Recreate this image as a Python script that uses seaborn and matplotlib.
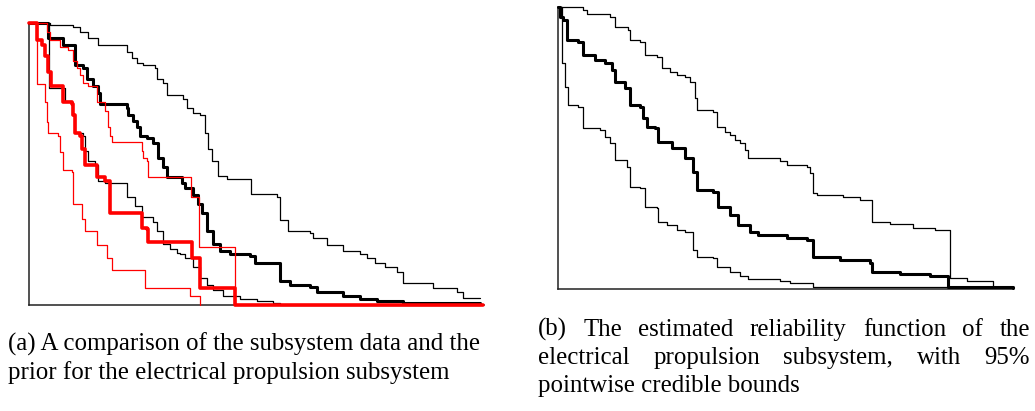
import matplotlib
matplotlib.use("Agg")
import matplotlib.pyplot as plt
import seaborn as sns
import pandas as pd

# ---------------- data (time, reliability) ----------------
# Panel (a): subsystem data (black) and prior (red)
A_DATA_UPPER_T = [0, 21, 31, 44, 51, 59, 69, 98, 103, 108, 114, 126, 128, 134, 138, 154, 158, 164, 171,
                  176, 179, 183, 189, 198, 222, 248, 251, 259, 281, 284, 298, 314, 331, 338, 346, 356,
                  368, 374, 404, 428, 434, 451]
A_DATA_UPPER_R = [1.0, 0.996, 0.993, 0.986, 0.968, 0.947, 0.922, 0.897, 0.879, 0.861, 0.851, 0.840, 0.804,
                  0.790, 0.744, 0.733, 0.698, 0.683, 0.673, 0.612, 0.555, 0.512, 0.459, 0.445, 0.395, 0.381,
                  0.299, 0.263, 0.256, 0.235, 0.210, 0.192, 0.181, 0.164, 0.146, 0.132, 0.114, 0.078, 0.060,
                  0.043, 0.024, 0.022]

A_DATA_MEAN_T = [0, 19, 34, 46, 54, 58, 64, 69, 71, 98, 99, 104, 108, 111, 118, 124, 129, 134, 138, 153,
                 156, 164, 169, 173, 178, 184, 191, 201, 221, 226, 251, 261, 281, 288, 314, 331, 348, 374, 451]
A_DATA_MEAN_R = [1.0, 0.947, 0.922, 0.851, 0.843, 0.804, 0.779, 0.754, 0.715, 0.699, 0.673, 0.652, 0.630,
                 0.601, 0.591, 0.573, 0.523, 0.488, 0.452, 0.434, 0.416, 0.388, 0.359, 0.327, 0.263, 0.217,
                 0.192, 0.181, 0.174, 0.149, 0.085, 0.068, 0.064, 0.043, 0.032, 0.021, 0.014, 0.004, 0.002]

A_DATA_LOWER_T = [0, 20, 36, 43, 46, 54, 56, 59, 66, 69, 76, 98, 106, 113, 124, 128, 134, 141, 148, 151,
                  156, 164, 171, 178, 184, 194, 211, 228, 244, 251, 451]
A_DATA_LOWER_R = [1.0, 0.772, 0.725, 0.673, 0.612, 0.601, 0.548, 0.512, 0.495, 0.441, 0.431, 0.381, 0.352,
                  0.310, 0.292, 0.263, 0.217, 0.199, 0.185, 0.180, 0.164, 0.132, 0.096, 0.068, 0.050, 0.032,
                  0.021, 0.014, 0.007, 0.0, 0.0]

A_PRIOR_MEAN_T = [0, 8, 13, 16, 19, 22, 34, 43, 44, 46, 51, 53, 56, 68, 76, 81, 113, 118, 119, 163, 171,
                  206, 454]
A_PRIOR_MEAN_R = [1.0, 0.943, 0.922, 0.886, 0.826, 0.779, 0.719, 0.715, 0.673, 0.609, 0.601, 0.555, 0.495,
                  0.452, 0.441, 0.327, 0.274, 0.270, 0.221, 0.167, 0.057, 0.0, 0.0]

A_PRIOR_UPPER_T = [0, 18, 21, 31, 39, 44, 48, 51, 54, 59, 68, 76, 79, 81, 83, 113, 114, 118, 119, 162,
                   170, 206]
A_PRIOR_UPPER_R = [1.0, 0.968, 0.940, 0.918, 0.904, 0.868, 0.843, 0.815, 0.790, 0.779, 0.722, 0.690, 0.630,
                   0.598, 0.577, 0.548, 0.520, 0.512, 0.452, 0.384, 0.203, 0.0]

A_PRIOR_LOWER_T = [0, 8, 16, 18, 19, 29, 31, 34, 43, 44, 53, 56, 68, 78, 83, 116, 161, 171]
A_PRIOR_LOWER_R = [1.0, 0.786, 0.719, 0.650, 0.609, 0.600, 0.541, 0.477, 0.470, 0.359, 0.306, 0.263, 0.210,
                   0.167, 0.121, 0.057, 0.032, 0.0]

# Panel (b): estimated reliability with 95% pointwise credible bounds
B_UPPER_T = [0, 25, 29, 52, 57, 70, 72, 82, 87, 99, 104, 112, 119, 127, 132, 137, 139, 155, 159, 167, 172,
             177, 182, 187, 190, 222, 229, 249, 252, 255, 259, 285, 302, 314, 332, 355, 377, 392, 409, 435,
             455]
B_UPPER_R = [1.0, 0.989, 0.975, 0.965, 0.929, 0.918, 0.883, 0.876, 0.830, 0.823, 0.784, 0.770, 0.759, 0.752,
             0.734, 0.677, 0.635, 0.628, 0.574, 0.557, 0.546, 0.528, 0.518, 0.493, 0.464, 0.454, 0.440, 0.433,
             0.411, 0.340, 0.333, 0.326, 0.316, 0.238, 0.230, 0.216, 0.209, 0.039, 0.025, 0.007, 0.007]

B_MEAN_T = [0, 2, 5, 9, 20, 25, 37, 47, 54, 57, 67, 72, 82, 85, 89, 97, 100, 114, 127, 135, 139, 155, 160,
            172, 180, 192, 200, 229, 249, 255, 282, 312, 314, 342, 372, 390, 455]
B_MEAN_R = [1.0, 0.965, 0.954, 0.883, 0.876, 0.830, 0.812, 0.801, 0.777, 0.734, 0.713, 0.652, 0.645, 0.606,
            0.574, 0.571, 0.521, 0.500, 0.465, 0.415, 0.351, 0.344, 0.291, 0.262, 0.227, 0.199, 0.191, 0.181,
            0.174, 0.113, 0.103, 0.092, 0.057, 0.050, 0.043, 0.004, 0.003]

B_LOWER_T = [0, 4, 7, 10, 20, 25, 42, 47, 52, 57, 69, 72, 82, 87, 99, 100, 109, 119, 127, 135, 139, 155,
             159, 172, 182, 190, 222, 232, 255, 455]
B_LOWER_R = [1.0, 0.801, 0.716, 0.652, 0.645, 0.571, 0.564, 0.539, 0.518, 0.457, 0.433, 0.362, 0.358, 0.291,
             0.287, 0.238, 0.227, 0.209, 0.202, 0.138, 0.113, 0.110, 0.078, 0.060, 0.043, 0.032, 0.025, 0.021,
             0.007, 0.004]

CAPTION_A = ["(a) A comparison of the subsystem data and the",
             "prior for the electrical propulsion subsystem"]
CAPTION_B = ["(b) The estimated reliability function of the",
             "electrical propulsion subsystem, with 95%",
             "pointwise credible bounds"]

# ---------------- figure ----------------
sns.set_style("white")
W, H = 1035, 411
fig = plt.figure(figsize=(W / 100, H / 100), dpi=100)


def ax_at(x0, y0, x1, y1):
    return fig.add_axes([x0 / W, 1 - y1 / H, (x1 - x0) / W, (y1 - y0) / H])


ax_a = ax_at(29, 23.5, 484, 304.5)
ax_b = ax_at(558, 7, 1013, 288.5)


def step(ax, t, r, color, lw, z):
    df = pd.DataFrame({"t": t, "R": r})
    sns.lineplot(data=df, x="t", y="R", ax=ax, color=color, linewidth=lw, estimator=None, sort=False,
                 drawstyle="steps-post", clip_on=False, zorder=z)


step(ax_a, A_DATA_UPPER_T, A_DATA_UPPER_R, "black", 0.9, 3)
step(ax_a, A_DATA_LOWER_T, A_DATA_LOWER_R, "black", 0.9, 3)
step(ax_a, A_DATA_MEAN_T, A_DATA_MEAN_R, "black", 2.2, 4)
step(ax_a, A_PRIOR_UPPER_T, A_PRIOR_UPPER_R, "#ff0000", 0.9, 5)
step(ax_a, A_PRIOR_LOWER_T, A_PRIOR_LOWER_R, "#ff0000", 0.9, 5)
step(ax_a, A_PRIOR_MEAN_T, A_PRIOR_MEAN_R, "#ff0000", 2.6, 6)

step(ax_b, B_UPPER_T, B_UPPER_R, "black", 0.9, 3)
step(ax_b, B_LOWER_T, B_LOWER_R, "black", 0.9, 3)
step(ax_b, B_MEAN_T, B_MEAN_R, "black", 2.2, 4)

for ax in (ax_a, ax_b):
    ax.set_xlim(0, 455)
    ax.set_ylim(0, 1)
    ax.set_xticks([])
    ax.set_yticks([])
    ax.set_xlabel("")
    ax.set_ylabel("")
    ax.set_facecolor("none")
    for s in ("top", "right"):
        ax.spines[s].set_visible(False)
    for s in ("left", "bottom"):
        ax.spines[s].set_color("#222222")
        ax.spines[s].set_linewidth(1.1)

# ---------------- captions ----------------
FS = 17.9
FAM = ["Liberation Serif", "DejaVu Serif"]
TXT = dict(fontsize=FS, family=FAM, va="baseline", ha="left", color="black")
fig.canvas.draw()
renderer = fig.canvas.get_renderer()


def put_line(text, x0, x1, y_base, justify):
    if not justify:
        fig.text(x0 / W, 1 - y_base / H, text, **TXT)
        return
    words = text.split(" ")
    objs = [fig.text(0, 0, w, **TXT) for w in words]
    widths = [o.get_window_extent(renderer).width for o in objs]
    gap = ((x1 - x0) - sum(widths)) / (len(words) - 1)
    x = x0
    for o, w in zip(objs, widths):
        o.set_position((x / W, 1 - y_base / H))
        x += w + gap


put_line(CAPTION_A[0], 8, 478, 351, False)
put_line(CAPTION_A[1], 8, 478, 379, False)
put_line(CAPTION_B[0], 538, 1030, 336, True)
put_line(CAPTION_B[1], 538, 1030, 364, True)
put_line(CAPTION_B[2], 538, 1030, 392, False)

fig.savefig("out.png", dpi=100)
